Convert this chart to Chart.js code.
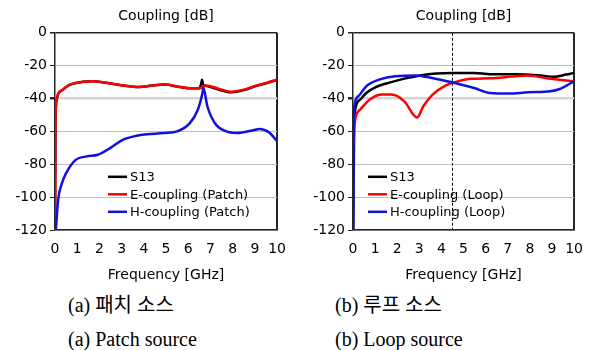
<!DOCTYPE html>
<html>
<head>
<meta charset="utf-8">
<script src="https://cdn.jsdelivr.net/npm/chart.js@4/dist/chart.umd.min.js"></script>
<style>
    body { margin: 0; background: #fff; width: 594px; height: 350px; position: relative; overflow: hidden; }
    canvas { position: absolute; top: 0; }
    #patchChart { left: 0; }
    #loopChart { left: 297px; }
    .cap { position: absolute; font-family: "Liberation Serif", "Noto Sans CJK KR", serif; font-size: 20px; color: #000; white-space: pre; line-height: 1; }
</style>
</head>
<body>
<canvas id="patchChart" width="297" height="290"></canvas>
<canvas id="loopChart" width="297" height="290"></canvas>
<div class="cap" style="left:68px; top:295px;">(a) 패치 소스</div>
<div class="cap" style="left:68px; top:329px;">(a) Patch source</div>
<div class="cap" style="left:335px; top:295px;">(b) 루프 소스</div>
<div class="cap" style="left:335px; top:329px;">(b) Loop source</div>
<script>
// axis
const yTicks = [0, -20, -40, -60, -80, -100, -120];
const xMin = 0, xMax = 10;

// (a) patch source
const patchFreqS = [0.005, 0.02, 0.07, 0.15, 0.36, 0.6, 0.93, 1.64, 2.36, 3.07, 3.79, 4.36, 4.93, 5.64, 6.21, 6.5, 6.58, 6.62, 6.67, 6.8, 7.36, 7.93, 8.5, 9.07, 9.5, 10];
const patchS     = [-120, -55, -41, -37, -34.6, -32, -30.5, -29.5, -30.5, -32.1, -33, -32.1, -31.5, -33, -33.8, -33.8, -31, -28.5, -31.5, -32.3, -34.5, -36.2, -34.9, -32.3, -30.7, -28.6];
const patchFreqE = [0.005, 0.02, 0.07, 0.15, 0.36, 0.6, 0.93, 1.64, 2.36, 3.07, 3.79, 4.36, 4.93, 5.64, 6.21, 6.57, 6.79, 7.36, 7.93, 8.5, 9.07, 9.5, 10];
const patchE     = [-120, -55, -41, -37, -34.6, -32, -30.5, -29.5, -30.5, -32.1, -33, -32.1, -31.5, -33, -33.8, -33.6, -32, -34, -35.8, -34.6, -32.1, -30.6, -28.5];
const patchFreqH = [0.04, 0.14, 0.3, 0.5, 0.93, 1.43, 1.93, 2.5, 3.07, 3.5, 3.93, 4.93, 5.5, 6.07, 6.43, 6.64, 6.68, 6.86, 7.2, 7.8, 8.2, 8.93, 9.2, 9.64, 10];
const patchH     = [-120, -101.7, -92, -85.4, -77.3, -75.2, -74.2, -70, -65, -63.2, -62, -61, -60, -55, -46.8, -36.6, -33.5, -44.7, -55, -60.4, -61, -59.3, -58.6, -60.6, -66];

// (b) loop source
const loopFreqS = [0.01, 0.05, 0.1, 0.32, 0.6, 1.03, 1.6, 2.32, 3.04, 3.76, 4.48, 5.48, 6.2, 7.35, 8.5, 9.07, 9.64, 10];
const loopS     = [-120, -60, -46.8, -40.7, -36.6, -33, -30.5, -27.9, -26, -24.8, -24.4, -24.4, -25.2, -25.2, -26, -26.8, -25.4, -24.4];
const loopFreqE = [0.03, 0.06, 0.32, 0.75, 1.32, 1.75, 2.32, 2.9, 3.18, 3.6, 4.18, 4.76, 5.34, 6.2, 7.35, 7.92, 8.92, 10];
const loopE     = [-68, -57, -46.8, -40.7, -37.6, -37.6, -41.7, -51.5, -44.7, -37.6, -32.1, -29.5, -28, -27.7, -26.4, -26, -28, -29.5];
const loopFreqH = [0.01, 0.03, 0.06, 0.24, 0.6, 1.18, 1.9, 2.9, 3.3, 4.05, 4.6, 5.48, 6.2, 7.06, 7.92, 8.92, 9.35, 10];
const loopH     = [-120, -60, -44.7, -38.6, -32.5, -28.5, -26.4, -26, -26.8, -28.9, -30.5, -33.6, -36.6, -37, -36.2, -35.6, -34.2, -29.5];
const loopMarker = [4.5];

const FONT = "'DejaVu Sans', Verdana, sans-serif";
const FRAME = '#262626';

function pts(xs, ys) {
    return xs.map((x, i) => ({ x: x, y: ys[i] }));
}

// order: higher number is drawn first (underneath)
function series(label, xs, ys, color, order) {
    return {
        label: label,
        data: pts(xs, ys),
        borderColor: color,
        backgroundColor: color,
        borderWidth: 2.5,
        pointRadius: 0,
        cubicInterpolationMode: 'monotone',
        fill: false,
        order: order
    };
}

// legend drawn inside the plot area
const insideLegend = {
    id: 'insideLegend',
    afterDatasetsDraw(chart, args, opts) {
        const ctx = chart.ctx;
        const area = chart.chartArea;
        ctx.save();
        ctx.font = '13px ' + FONT;
        ctx.textBaseline = 'middle';
        let row = 0;
        chart.data.datasets.forEach(ds => {
            if (ds.noLegend) return;
            const x = area.left + opts.x;
            const y = area.top + opts.y + row * 17.5;
            ctx.strokeStyle = ds.borderColor;
            ctx.lineWidth = 2.5;
            ctx.beginPath();
            ctx.moveTo(x, y);
            ctx.lineTo(x + 19, y);
            ctx.stroke();
            ctx.fillStyle = '#000';
            ctx.fillText(ds.label, x + 22, y + 1);
            row++;
        });
        ctx.restore();
    }
};

function makeChart(id, datasets, yWidth, legendPos) {
    const ctx = document.getElementById(id).getContext('2d');
    return new Chart(ctx, {
        type: 'line',
        data: { datasets: datasets },
        plugins: [insideLegend],
        options: {
            responsive: false,
            animation: false,
            layout: { padding: { left: 0, right: 9, top: 0, bottom: 3 } },
            plugins: {
                legend: { display: false },
                tooltip: { enabled: false },
                title: {
                    display: true,
                    text: 'Coupling [dB]',
                    fullSize: false,
                    color: '#000',
                    font: { family: FONT, size: 14, weight: 'normal' },
                    padding: { top: 8, bottom: 8 }
                },
                insideLegend: legendPos
            },
            scales: {
                x: {
                    type: 'linear',
                    min: xMin,
                    max: xMax,
                    afterFit: s => { s.height = 57; },
                    ticks: { stepSize: 1, color: '#000', padding: 11, maxRotation: 0,
                             font: { family: FONT, size: 14 } },
                    grid: {
                        drawTicks: false,
                        lineWidth: 2,
                        color: c => c.tick && c.tick.value === xMax ? FRAME : 'rgba(0,0,0,0)'
                    },
                    border: { color: FRAME, width: 1.5 },
                    title: { display: true, text: 'Frequency [GHz]', color: '#000',
                             font: { family: FONT, size: 14 }, padding: { top: 8, bottom: 3 } }
                },
                y: {
                    min: -120,
                    max: 0,
                    afterBuildTicks: s => { s.ticks = yTicks.map(v => ({ value: v })); },
                    afterFit: s => { s.width = yWidth; },
                    ticks: { color: '#000', padding: 3, font: { family: FONT, size: 14 } },
                    grid: {
                        tickLength: 5,
                        tickColor: FRAME,
                        color: c => {
                            if (c.tick && c.tick.value === 0) return FRAME;
                            if (c.tick && c.tick.value === -40) return '#d4d4d4';
                            return '#bdbdbd';
                        },
                        lineWidth: c => {
                            if (c.tick && c.tick.value === 0) return 1.5;
                            if (c.tick && c.tick.value === -40) return 2.5;
                            return 1;
                        }
                    },
                    border: { color: FRAME, width: 1.5 }
                }
            }
        }
    });
}

makeChart('patchChart', [
    series('S13', patchFreqS, patchS, '#000000', 3),
    series('E-coupling (Patch)', patchFreqE, patchE, '#ff0000', 2),
    series('H-coupling (Patch)', patchFreqH, patchH, '#1010e0', 1)
], 55, { x: 53, y: 144 });

const marker = {
    label: 'marker',
    noLegend: true,
    data: [{ x: loopMarker[0], y: 0 }, { x: loopMarker[0], y: -120 }],
    borderColor: '#000',
    borderWidth: 1,
    borderDash: [3, 2],
    pointRadius: 0,
    order: 4
};

makeChart('loopChart', [
    marker,
    series('S13', loopFreqS, loopS, '#000000', 3),
    series('E-coupling (Loop)', loopFreqE, loopE, '#ff0000', 2),
    series('H-coupling (Loop)', loopFreqH, loopH, '#1010e0', 1)
], 56, { x: 15, y: 144 });
</script>
</body>
</html>
